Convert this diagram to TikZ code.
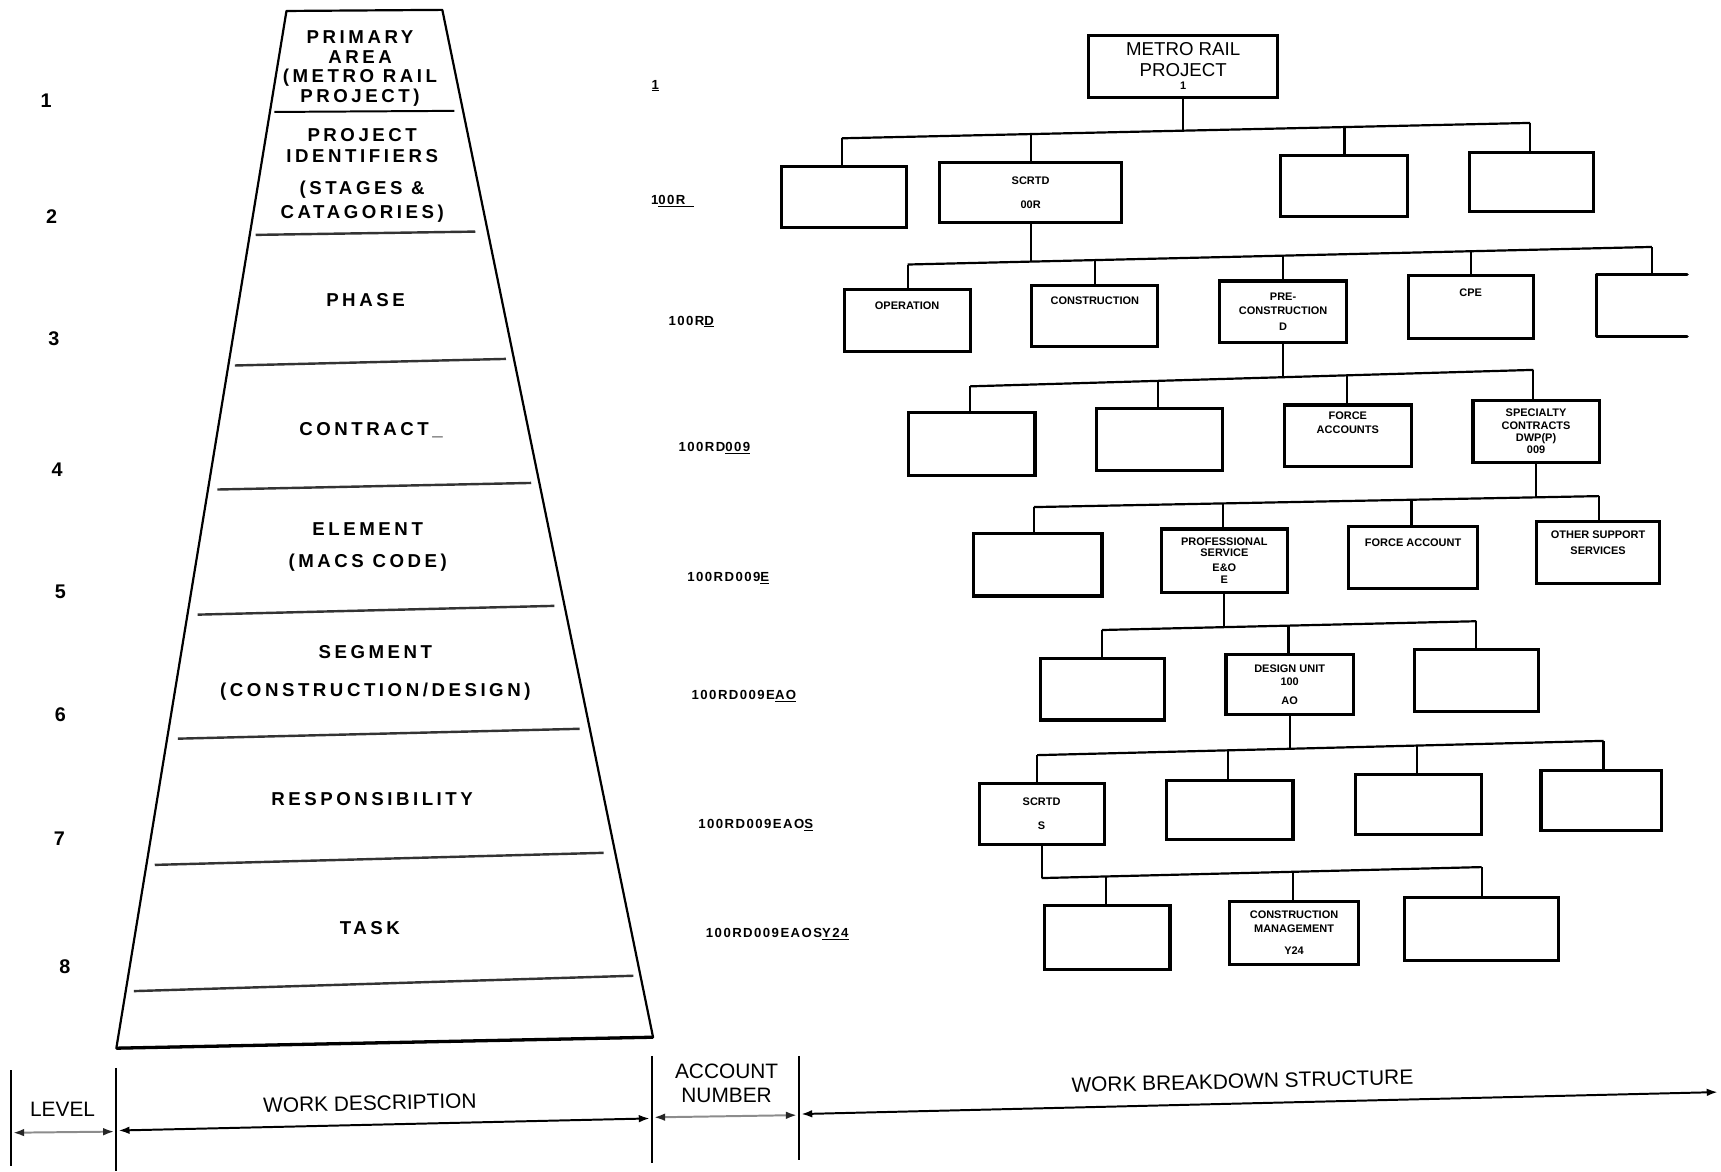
\documentclass[tikz,border=0pt]{standalone}
\usepackage{fontspec}
\setmainfont{Liberation Sans}
\newfontfamily\trackedfont[LetterSpace=19]{Liberation Sans}
\newfontfamily\codefont[LetterSpace=11]{Liberation Sans}
\usetikzlibrary{arrows.meta}

\newcommand\trapfont{\trackedfont\bfseries\fontsize{17}{19}\selectfont}
\newcommand\boxfont{\bfseries\fontsize{10}{12}\selectfont}
\newcommand\acctfont{\codefont\bfseries\fontsize{12}{14}\selectfont}

\tikzset{
  wbox/.style={draw, line width=2.8pt, inner sep=0pt, align=center, font=\boxfont},
  ghostbox/.style={inner sep=0pt},
  boxedge/.style={line width=2.8pt, line cap=round, line join=round},
  tlbl/.style={anchor=north, inner sep=0pt, align=center, font=\boxfont},
  link/.style={line width=2pt},
  trapline/.style={line width=2pt, line join=round},
  divider/.style={line width=2.2pt, black!80},
  trap/.style={font=\trapfont, align=center, inner sep=0pt},
  lvl/.style={font=\bfseries\fontsize{18}{20}\selectfont, inner sep=0pt},
  acct/.style={font=\acctfont, anchor=west, inner sep=0pt},
  caption/.style={font=\fontsize{19}{21}\selectfont, inner sep=0pt, align=center},
  bar/.style={line width=1.8pt},
  dim/.style={line width=1.8pt, {Latex[length=10pt,width=7pt]}-{Latex[length=10pt,width=7pt]}},
  dimlight/.style={dim, draw=black!45, {Latex[length=10pt,width=7pt,color=black!85]}-{Latex[length=10pt,width=7pt,color=black!85]}},
}

\begin{document}
\begin{tikzpicture}[x=1pt, y=-1pt]
\useasboundingbox (0,0) rectangle (1568,1067);

% ---------- level numbers ----------
\node[lvl] (lv1) at (42,92)  {1};
\node[lvl] (lv2) at (47,197) {2};
\node[lvl] (lv3) at (49,309) {3};
\node[lvl] (lv4) at (52,428) {4};
\node[lvl] (lv5) at (55,539) {5};
\node[lvl] (lv6) at (55,651) {6};
\node[lvl] (lv7) at (54,764) {7};
\node[lvl] (lv8) at (59,881) {8};

% ---------- work description pyramid ----------
\coordinate (tTL) at (261,10);
\coordinate (tTR) at (403,9);
\coordinate (tBR) at (595,945);
\coordinate (tBL) at (106,955);
\draw[trapline] (tTL) -- (tTR) -- (tBR) -- (tBL) -- cycle;
\draw[line width=3pt] (tBL) -- (tBR);

\draw[line width=1.8pt] (250,102) -- (414,101);
\draw[divider] (233,214) -- (433,211);
\draw[divider] (214,333) -- (461,327);
\draw[divider] (198,446) -- (484,440);
\draw[divider] (180,560) -- (505,552);
\draw[divider] (162,673) -- (528,664);
\draw[divider] (141,788) -- (550,777);
\draw[divider] (122,903) -- (577,889);

\node[trap] (tx1) at (328,62.5) {PRIMARY\\[-1pt]AREA\\[-1pt](METRO RAIL\\[-1pt]PROJECT)};
\node[trap] (tx2) at (330,160) {PROJECT\\IDENTIFIERS\\[10pt](STAGES \&\\[3pt]CATAGORIES)};
\node[trap] (tx3) at (333,273) {PHASE};
\node[trap] (tx4) at (338,392) {CONTRACT\_};
\node[trap] (tx5) at (335,498.5) {ELEMENT\\[10pt](MACS CODE)};
\node[trap] (tx6) at (342,613) {SEGMENT\\[15pt](CONSTRUCTION/DESIGN)};
\node[trap] (tx7) at (339,728) {RESPONSIBILITY};
\node[trap] (tx8) at (337,846) {TASK};

% ---------- account numbers ----------
\node[acct, anchor=center] (ac1) at (597,78) {\underline{1}};
\node[acct] (ac2) at (593,183) {1\underline{00R\hspace{8pt}}};
\node[acct] (ac3) at (609,293) {100R\underline{D}};
\node[acct] (ac4) at (618,408) {100RD\underline{009}};
\node[acct] (ac5) at (626,527) {100RD009\underline{E}};
\node[acct] (ac6) at (630,634) {100RD009E\underline{AO}};
\node[acct] (ac7) at (636,752) {100RD009EAO\underline{S}};
\node[acct] (ac8) at (643,851) {100RD009EAOS\underline{Y24}};

% ---------- work breakdown structure ----------
% level 1
\node[wbox, minimum width=172pt, minimum height=57pt, font=\fontsize{17}{19}\selectfont] (R) at (1078,60.5)
  {METRO RAIL\\PROJECT\\[-7pt]{\bfseries\fontsize{10}{11}\selectfont 1}};

% level 2
\node[wbox, minimum width=114pt, minimum height=55pt] (A1) at (769,179.5) {};
\node[wbox, minimum width=166pt, minimum height=55pt] (A2) at (939,175.5) {SCRTD\\[10pt]00R};
\node[wbox, minimum width=115pt, minimum height=55pt] (A3) at (1224.5,169.5) {};
\node[wbox, minimum width=113pt, minimum height=54pt] (A4) at (1395.5,166) {};

% level 3
\node[wbox, minimum width=115pt, minimum height=56pt,
      label={[tlbl, yshift=-12.4pt]north:OPERATION}] (B1) at (826.5,292) {};
\node[wbox, minimum width=115pt, minimum height=56pt,
      label={[tlbl, yshift=-11.4pt]north:CONSTRUCTION}] (B2) at (997.5,288) {};
\node[wbox, minimum width=116pt, minimum height=56pt] (B3) at (1169,284) {PRE-\\[1pt]CONSTRUCTION\\[3pt]D};
\node[wbox, minimum width=114pt, minimum height=57pt,
      label={[tlbl, yshift=-13.4pt]north:CPE}] (B4) at (1340,279.5) {};
\node[ghostbox, minimum width=82pt, minimum height=56pt] (B5) at (1496,278) {};
\draw[boxedge] (B5.north east) -- (B5.north west) -- (B5.south west) -- (B5.south east);

% level 4
\node[wbox, minimum width=115pt, minimum height=57pt] (C1) at (885.5,404.5) {};
\node[wbox, minimum width=115pt, minimum height=57pt] (C2) at (1056.5,400.5) {};
\node[wbox, minimum width=116pt, minimum height=56pt,
      label={[tlbl, yshift=-7.4pt]north:FORCE\\[1pt]ACCOUNTS}] (C3) at (1228,397) {};
\node[wbox, minimum width=115pt, minimum height=56pt] (C4) at (1399.5,393) {SPECIALTY\\[0pt]CONTRACTS\\[-1pt]DWP(P)\\[-1pt]009};

% level 5
\node[wbox, minimum width=117pt, minimum height=57pt] (D1) at (945.5,514.5) {};
\node[wbox, minimum width=115pt, minimum height=58pt] (D2) at (1115.5,511) {PROFESSIONAL\\[-2pt]SERVICE\\[2pt]E\&O\\[-1pt]E};
\node[wbox, minimum width=117pt, minimum height=56pt,
      label={[tlbl, yshift=-12.4pt]north:FORCE ACCOUNT}] (D3) at (1287.5,508) {};
\node[wbox, minimum width=112pt, minimum height=57pt,
      label={[tlbl, yshift=-9.4pt]north:OTHER SUPPORT\\[3pt]SERVICES}] (D4) at (1456,503.5) {};

% level 6
\node[wbox, minimum width=113pt, minimum height=56pt] (E1) at (1004.5,628) {};
\node[wbox, minimum width=116pt, minimum height=55pt] (E2) at (1175,623.5) {DESIGN UNIT\\100\\[5pt]AO};
\node[wbox, minimum width=113pt, minimum height=56pt] (E3) at (1345.5,620) {};

% level 7
\node[wbox, minimum width=114pt, minimum height=55pt] (F1) at (949,741.5) {SCRTD\\[10pt]S};
\node[wbox, minimum width=115pt, minimum height=54pt] (F2) at (1120.5,738) {};
\node[wbox, minimum width=115pt, minimum height=54pt] (F3) at (1292.5,733) {};
\node[wbox, minimum width=110pt, minimum height=55pt] (F4) at (1459,729.5) {};

% level 8
\node[wbox, minimum width=114pt, minimum height=58pt] (G1) at (1009,854) {};
\node[wbox, minimum width=118pt, minimum height=58pt] (G2) at (1179,850) {CONSTRUCTION\\[1pt]MANAGEMENT\\[8pt]Y24};
\node[wbox, minimum width=140pt, minimum height=58pt] (G3) at (1350,846.5) {};

% ---------- connectors: bus points ----------
\coordinate (k1a) at (767,126);   \coordinate (k1b) at (939,122.2);
\coordinate (k1p) at (1078,119.1); \coordinate (k1c) at (1225,115.8);
\coordinate (k1d) at (1394,112);

\coordinate (k2a) at (827,241);   \coordinate (k2p) at (939,238.4);
\coordinate (k2b) at (998,237);   \coordinate (k2c) at (1169,232.9);
\coordinate (k2d) at (1340,228.9); \coordinate (k2e) at (1505,225);

\coordinate (k3a) at (884,352);   \coordinate (k3b) at (1055,347);
\coordinate (k3p) at (1169,343.7); \coordinate (k3c) at (1227,342);
\coordinate (k3d) at (1397,337);

\coordinate (k4a) at (942,462);   \coordinate (k4b) at (1114,458.7);
\coordinate (k4c) at (1286,455.3); \coordinate (k4p) at (1399.5,453.1);
\coordinate (k4d) at (1457,452);

\coordinate (k5a) at (1004,574);  \coordinate (k5p) at (1115.5,571.4);
\coordinate (k5b) at (1174,570);  \coordinate (k5c) at (1345,566);

\coordinate (k6a) at (945,688);   \coordinate (k6b) at (1119,683.6);
\coordinate (k6p) at (1175,682.2); \coordinate (k6c) at (1291,679.3);
\coordinate (k6d) at (1461,675);

\coordinate (k7p) at (949,800);   \coordinate (k7a) at (1008,798.5);
\coordinate (k7b) at (1178,794.3); \coordinate (k7c) at (1350,790);

% level 1 -> 2
\draw[link] (R.south) -- (R.south |- k1p);
\draw[link] (k1a) -- (k1d);
\draw[link] (k1a) -- (k1a |- A1.north);
\draw[link] (k1b) -- (k1b |- A2.north);
\draw[link] (k1c) -- (k1c |- A3.north);
\draw[link] (k1d) -- (k1d |- A4.north);

% level 2 -> 3
\draw[link] (A2.south) -- (A2.south |- k2p);
\draw[link] (k2a) -- (k2e);
\draw[link] (k2a) -- (k2a |- B1.north);
\draw[link] (k2b) -- (k2b |- B2.north);
\draw[link] (k2c) -- (k2c |- B3.north);
\draw[link] (k2d) -- (k2d |- B4.north);
\draw[link] (k2e) -- (k2e |- B5.north);

% level 3 -> 4
\draw[link] (B3.south) -- (B3.south |- k3p);
\draw[link] (k3a) -- (k3d);
\draw[link] (k3a) -- (k3a |- C1.north);
\draw[link] (k3b) -- (k3b |- C2.north);
\draw[link] (k3c) -- (k3c |- C3.north);
\draw[link] (k3d) -- (k3d |- C4.north);

% level 4 -> 5
\draw[link] (C4.south) -- (C4.south |- k4p);
\draw[link] (k4a) -- (k4d);
\draw[link] (k4a) -- (k4a |- D1.north);
\draw[link] (k4b) -- (k4b |- D2.north);
\draw[link] (k4c) -- (k4c |- D3.north);
\draw[link] (k4d) -- (k4d |- D4.north);

% level 5 -> 6
\draw[link] (D2.south) -- (D2.south |- k5p);
\draw[link] (k5a) -- (k5c);
\draw[link] (k5a) -- (k5a |- E1.north);
\draw[link] (k5b) -- (k5b |- E2.north);
\draw[link] (k5c) -- (k5c |- E3.north);

% level 6 -> 7
\draw[link] (E2.south) -- (E2.south |- k6p);
\draw[link] (k6a) -- (k6d);
\draw[link] (k6a) -- (k6a |- F1.north);
\draw[link] (k6b) -- (k6b |- F2.north);
\draw[link] (k6c) -- (k6c |- F3.north);
\draw[link] (k6d) -- (k6d |- F4.north);

% level 7 -> 8
\draw[link] (F1.south) -- (F1.south |- k7p);
\draw[link] (k7p) -- (k7c);
\draw[link] (k7a) -- (k7a |- G1.north);
\draw[link] (k7b) -- (k7b |- G2.north);
\draw[link] (k7c) -- (k7c |- G3.north);

% ---------- column key along the bottom ----------
\coordinate (b1t) at (10,975);  \coordinate (b1b) at (10,1062);
\coordinate (b2t) at (106,973); \coordinate (b2b) at (106,1067);
\coordinate (b3t) at (594,962); \coordinate (b3b) at (594,1060);
\coordinate (b4t) at (728,962); \coordinate (b4b) at (728,1057);
\draw[bar] (b1t) -- (b1b);
\draw[bar] (b2t) -- (b2b);
\draw[bar] (b3t) -- (b3b);
\draw[bar] (b4t) -- (b4b);

\coordinate (d1l) at (12,1032);  \coordinate (d1r) at (104,1031);
\coordinate (d2l) at (108,1030); \coordinate (d2r) at (592,1019);
\coordinate (d3l) at (596,1018); \coordinate (d3r) at (726,1016);
\coordinate (d4l) at (730,1015); \coordinate (d4r) at (1565,995);
\draw[dimlight] (d1l) -- (d1r);
\draw[dim] (d2l) -- (d2r);
\draw[dimlight] (d3l) -- (d3r);
\draw[dim] (d4l) -- (d4r);

\node[caption] (cLevel) at (57,1011) {LEVEL};
\node[caption, rotate=1.3] (cWork) at (337,1005) {WORK DESCRIPTION};
\node[caption] (cAcct) at (662,987) {ACCOUNT\\NUMBER};
\node[caption, rotate=1.4] (cWbs) at (1132,985) {WORK BREAKDOWN STRUCTURE};
\end{tikzpicture}
\end{document}
